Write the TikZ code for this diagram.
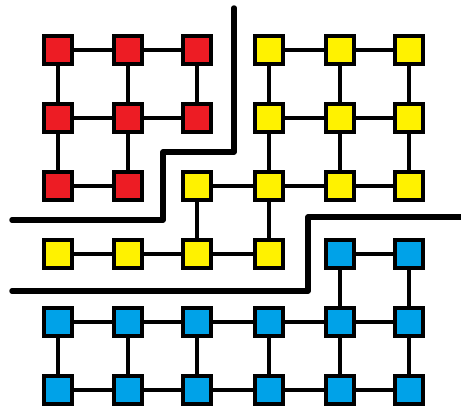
\documentclass[tikz,border=0pt]{standalone}
\usepackage{xcolor}
\usepackage{tikz}

\definecolor{cr}{RGB}{237,28,36}
\definecolor{cy}{RGB}{255,242,0}
\definecolor{cb}{RGB}{0,162,232}

\tikzset{
  cell/.style={draw=black, line width=4pt, minimum size=28pt, inner sep=0pt},
  link/.style={line width=3.4pt},
  wall/.style={line width=5.5pt, line cap=round, line join=round},
}

\begin{document}
\begin{tikzpicture}[x=1pt,y=-1pt]
\useasboundingbox (0,0) rectangle (461,407);
% cells, one row at a time
\foreach \r/\y/\ka/\kb/\kc/\kd/\ke/\kf in {1/50/cr/cr/cr/cy/cy/cy,
    2/118/cr/cr/cr/cy/cy/cy, 3/186/cr/cr/cy/cy/cy/cy,
    4/254/cy/cy/cy/cy/cb/cb, 5/322/cb/cb/cb/cb/cb/cb,
    6/390/cb/cb/cb/cb/cb/cb}
  \foreach \c/\x/\k in {1/58/\ka,2/128/\kb,3/197/\kc,4/269/\kd,5/340/\ke,6/409/\kf}
    \node[cell, fill=\k] (c\r\c) at (\x,\y) {};
% horizontal links
\foreach \a/\b in {11/12,12/13,14/15,15/16,21/22,22/23,24/25,25/26,
    31/32,33/34,34/35,35/36,41/42,42/43,43/44,45/46,
    51/52,52/53,53/54,54/55,55/56,61/62,62/63,63/64,64/65,65/66}
  \draw[link] (c\a) -- (c\b);
% vertical links
\foreach \a/\b in {11/21,12/22,13/23,14/24,15/25,16/26,21/31,22/32,24/34,25/35,26/36,
    33/43,34/44,45/55,46/56,51/61,52/62,53/63,54/64,55/65,56/66}
  \draw[link] (c\a) -- (c\b);
% partition walls
\draw[wall] (234,8) -- (234,152) -- (163,152) -- (163,220) -- (12,220);
\draw[wall] (12,291) -- (308,291) -- (308,217) -- (465,217);
\end{tikzpicture}
\end{document}
